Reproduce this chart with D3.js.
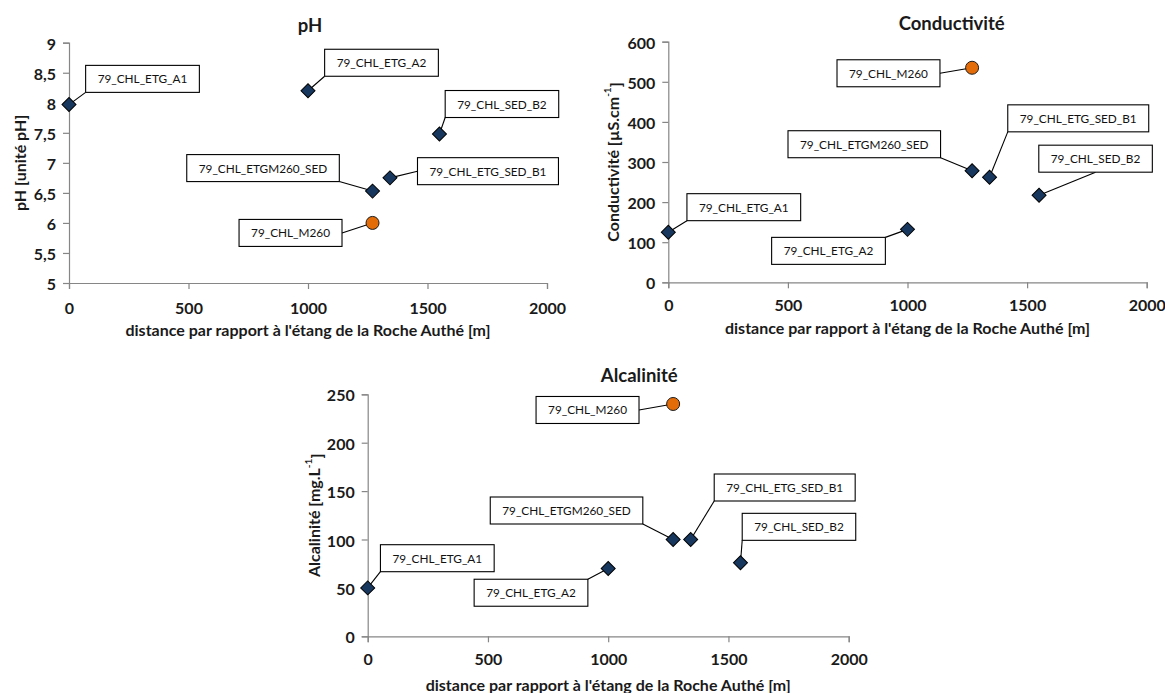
<!DOCTYPE html>
<html><head><meta charset="utf-8">
<script src="https://cdn.jsdelivr.net/npm/d3@7"></script>
<style>
html,body{margin:0;padding:0;background:#fff;}
text{font-family:Lato,"Noto Sans",sans-serif;}
</style></head>
<body>
<svg id="chart" width="1165" height="693"></svg>
<script>
// ---------- data ----------
const stations = ["79_CHL_ETG_A1","79_CHL_ETG_A2","79_CHL_ETGM260_SED","79_CHL_ETG_SED_B1","79_CHL_SED_B2","79_CHL_M260"];
const seriesOf = ["ETG","ETG","ETG","ETG","ETG","M260"];
const distance = [0, 1000, 1270, 1343, 1550, 1270];
const phValues = [7.97, 8.2, 6.53, 6.75, 7.48, 6.0];
const condValues = [125, 132, 278, 262, 217, 535];
const alkValues = [50, 70, 100, 100, 76, 240];
const xTicks = [0, 500, 1000, 1500, 2000];
const phTicks = [5, 5.5, 6, 6.5, 7, 7.5, 8, 8.5, 9];
const condTicks = [0, 100, 200, 300, 400, 500, 600];
const alkTicks = [0, 50, 100, 150, 200, 250];
const xTitle = "distance par rapport à l'étang de la Roche Authé [m]";

// ---------- layout (label box centre offsets from marker, px) ----------
const phLabelOff = [[73.5,-25.7],[73.5,-28],[-109.5,-23],[98,-6.7],[62.5,-30],[-82,10]];
const condLabelOff = [[75.5,-25],[-79,21.5],[-107.8,-26.6],[88.7,-58.9],[56.5,-36.6],[-83.6,5.5]];
const alkLabelOff = [[69.6,-29.7],[-77.2,24.2],[-106.6,-29],[94,-52],[58.5,-35.9],[-85.6,6]];

const svg = d3.select("#chart");
svg.append("rect").attr("width",1165).attr("height",693).attr("fill","#fff");
const frLocale = d3.formatLocale({decimal:",", thousands:" ", grouping:[3], currency:["","€"]});
const fmt = frLocale.format("~g");

const axisColor = "#868686";
const navy = "#17375E";
const orange = "#E36C09";

function drawPanel(p){
  const g = svg.append("g");
  const x = d3.scaleLinear().domain([0,2000]).range([p.x0, p.x1]);
  const y = d3.scaleLinear().domain(p.yDomain).range([p.y0, p.y1]);

  // axes
  const xa = g.append("g").attr("transform",`translate(0,${p.y0})`)
    .call(d3.axisBottom(x).tickValues(xTicks).tickSize(6).tickPadding(6).tickFormat(d3.format("d")));
  const ya = g.append("g").attr("transform",`translate(${p.x0},0)`)
    .call(d3.axisLeft(y).tickValues(p.yTicks).tickSize(6).tickPadding(7).tickFormat(fmt));
  [xa,ya].forEach(a=>{
    a.select(".domain").attr("stroke",axisColor).attr("stroke-width",1.2);
    a.selectAll(".tick line").attr("stroke",axisColor).attr("stroke-width",1.2);
    a.selectAll(".tick text").attr("fill","#1a1a1a").style("font-family","Lato")
      .style("font-size","16px").style("font-weight","bold");
  });
  xa.selectAll(".tick text").attr("dy",null).attr("dominant-baseline","central").attr("y", p.xTickDy);
  ya.selectAll(".tick text").attr("dy",null).attr("dominant-baseline","central");

  // title
  g.append("text").attr("x",p.titleX).attr("y",p.titleY).attr("text-anchor","middle")
    .attr("dominant-baseline","central").style("font-size","18.5px").style("font-weight","bold")
    .attr("fill","#1a1a1a").text(p.title);
  // x title
  g.append("text").attr("x",(p.x0+p.x1)/2).attr("y",p.y0+p.xTitleDy).attr("text-anchor","middle")
    .attr("dominant-baseline","central").style("font-size","16px").style("font-weight","bold")
    .attr("fill","#1a1a1a").text(xTitle);
  // y title
  const yt = g.append("text").attr("transform",`translate(${p.yTitleX},${(p.y0+p.y1)/2}) rotate(-90)`)
    .attr("text-anchor","middle").attr("dominant-baseline","central")
    .style("font-size","16px").style("font-weight","bold").attr("fill","#1a1a1a");
  yt.append("tspan").text(p.yTitle);
  if(p.yTitleSup){
    yt.append("tspan").attr("dy","-0.45em").style("font-size","10px").text(p.yTitleSup);
    yt.append("tspan").attr("dy","0.45em").text("]");
  }

  // labels
  const pts = stations.map((s,i)=>({name:s, series:seriesOf[i], px:x(distance[i]), py:y(p.values[i]), off:p.labelOff[i]}));
  const lblG = g.append("g");
  pts.forEach(d=>{
    const cx = d.px + d.off[0], cy = d.py + d.off[1];
    const t = lblG.append("text").attr("x",cx).attr("y",cy).attr("text-anchor","middle")
      .attr("dominant-baseline","central").style("font-size","11.8px").attr("fill","#111").text(d.name);
    const w = t.node().getComputedTextLength() + 24, h = 27;
    const l = cx - w/2, r = cx + w/2, tp = cy - h/2, bt = cy + h/2;
    let ax, ay;
    const inX = d.px >= l && d.px <= r, inY = d.py >= tp && d.py <= bt;
    if(inY && !inX){ ax = d.px < l ? l : r; ay = cy; }
    else if(inX && !inY){ ax = cx; ay = d.py < tp ? tp : bt; }
    else { ax = d.px < l ? l : r; ay = d.py < tp ? tp : bt; }
    lblG.insert("line","text").attr("x1",ax).attr("y1",ay).attr("x2",d.px).attr("y2",d.py)
      .attr("stroke","#000").attr("stroke-width",1.1);
    lblG.insert("rect","text").attr("x",l).attr("y",tp).attr("width",w).attr("height",h)
      .attr("fill","#fff").attr("stroke","#000").attr("stroke-width",1.1);
  });

  // markers
  const diamond = d3.symbol().type(d3.symbolSquare).size(98);
  g.selectAll("path.mk").data(pts.filter(d=>d.series==="ETG")).join("path").attr("class","mk")
    .attr("d",diamond).attr("transform",d=>`translate(${d.px},${d.py}) rotate(45)`)
    .attr("fill",navy).attr("stroke","#000").attr("stroke-width",1);
  g.selectAll("circle.mk").data(pts.filter(d=>d.series==="M260")).join("circle").attr("class","mk")
    .attr("cx",d=>d.px).attr("cy",d=>d.py).attr("r",6.5)
    .attr("fill",orange).attr("stroke","#1a1a1a").attr("stroke-width",1);
}

drawPanel({title:"pH", titleX:310, titleY:25, x0:69, x1:547, y0:283, y1:42.7, yDomain:[5,9], yTicks:phTicks,
  values:phValues, labelOff:phLabelOff, yTitle:"pH [unité pH]", yTitleX:19, xTickDy:24, xTitleDy:46});
drawPanel({title:"Conductivité", titleX:951.7, titleY:22.7, x0:668.3, x1:1146.7, y0:282.3, y1:41.7, yDomain:[0,600], yTicks:condTicks,
  values:condValues, labelOff:condLabelOff, yTitle:"Conductivité [µS.cm", yTitleSup:"-1", yTitleX:611.7, xTickDy:22, xTitleDy:45});
drawPanel({title:"Alcalinité", titleX:639.3, titleY:375, x0:367.7, x1:848.7, y0:636.3, y1:394.3, yDomain:[0,250], yTicks:alkTicks,
  values:alkValues, labelOff:alkLabelOff, yTitle:"Alcalinité  [mg.L", yTitleSup:"-1", yTitleX:312.7, xTickDy:22, xTitleDy:48});
</script>
</body></html>
